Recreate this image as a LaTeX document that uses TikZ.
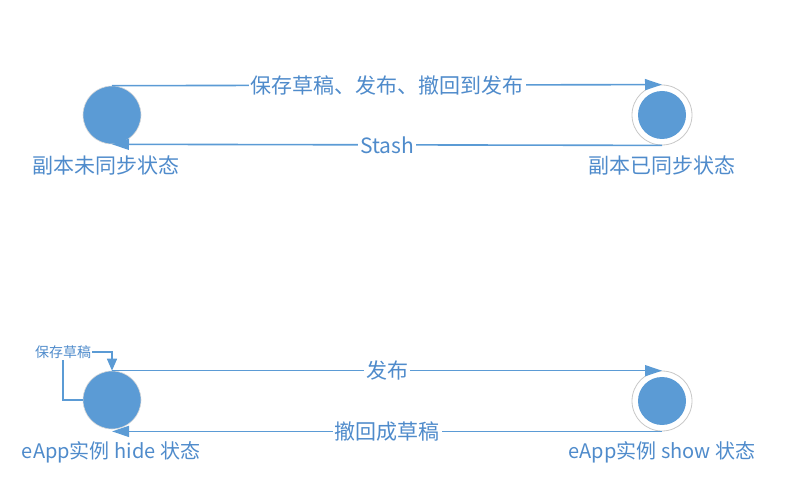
\documentclass[tikz,border=0pt]{standalone}
\usepackage{fontspec}
\setmainfont{Noto Sans CJK SC}
\usetikzlibrary{arrows.meta}
\definecolor{stateblue}{HTML}{5B9BD5}
\definecolor{textblue}{HTML}{4F8BCB}
\definecolor{ringgray}{HTML}{C8C8C8}

\begin{document}
\begin{tikzpicture}[x=1pt,y=-1pt,
            state node/.style={circle,fill=stateblue,draw=ringgray!70,line width=0.6pt,inner sep=0pt,minimum size=58pt},
            ring node/.style={circle,draw=ringgray,line width=0.8pt,fill=white,inner sep=0pt,minimum size=60pt},
            dot node/.style={circle,fill=stateblue,inner sep=0pt,minimum size=48pt},
            label node/.style={text=textblue,font=\fontsize{21pt}{24pt}\selectfont,inner sep=1pt},
            edge label/.style={label node,fill=white,inner sep=2pt},
            small label/.style={text=textblue,font=\fontsize{14pt}{16pt}\selectfont,inner sep=1pt},
            flow/.style={draw=stateblue,line width=1.6pt,-{Triangle[length=17pt,width=11pt]}},
            loop flow/.style={draw=stateblue,line width=1.6pt,-{Triangle[length=12pt,width=10pt]}},
            ]
            \useasboundingbox (0,0) rectangle (788,489);

            % copy states
            \node[state node] (unsync) at (112,115) {};
            \node[ring node] (sync) at (662,115) {};
            \node[dot node] (syncdot) at (sync) {};
            \node[label node] (unsynclbl) at (106,166) {副本未同步状态};
            \node[label node] (synclbl) at (662,166) {副本已同步状态};

            \draw[flow] (unsync.north) -- node[edge label] {保存草稿、发布、撤回到发布} (sync.north);
            \draw[flow] (sync.south) -- node[edge label] {Stash} (unsync.south);

            % eApp instance states
            \node[state node] (hide) at (112,400) {};
            \node[ring node] (show) at (662,401) {};
            \node[dot node] (showdot) at (show) {};
            \node[label node,font=\fontsize{20pt}{23pt}\selectfont] (hidelbl) at (111,452) {eApp实例 hide 状态};
            \node[label node,font=\fontsize{20pt}{23pt}\selectfont] (showlbl) at (662,452) {eApp实例 show 状态};
            \node[small label] (draft) at (63,352) {保存草稿};

            \draw[flow] (hide.north) -- node[edge label] {发布} (hide.north -| show.north);
            \draw[flow] (show.south) -- node[edge label] {撤回成草稿} (show.south -| hide.south);
            \draw[draw=stateblue,line width=1.6pt] (hide.west) -| (draft.south);
            \draw[loop flow] (draft.east) -| (hide.north);
\end{tikzpicture}
\end{document}
